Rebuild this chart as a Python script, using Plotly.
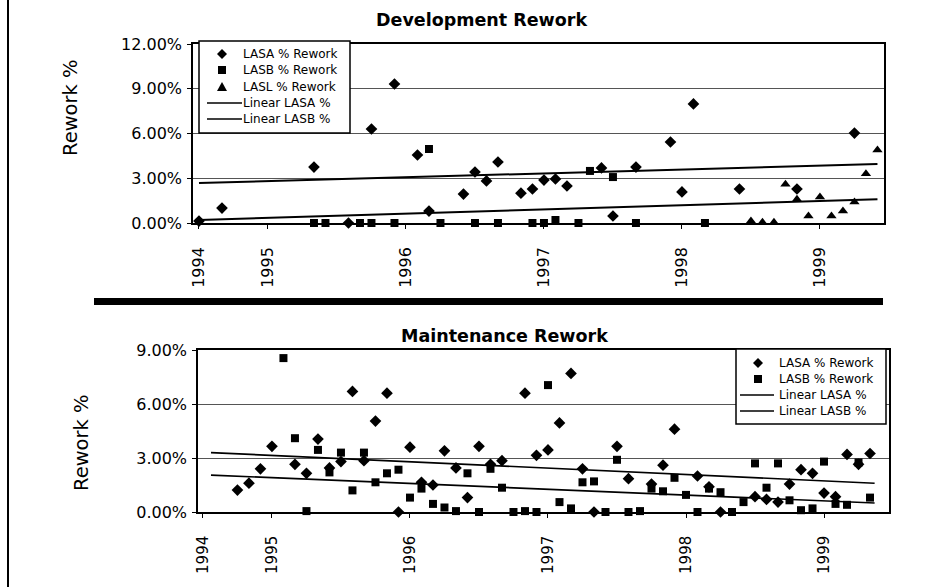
import plotly.graph_objects as go

# ---------------- data (x = month index, 0 = January 1995) ----------------
year_labels = ["1994", "1995", "1996", "1997", "1998", "1999"]

# Development rework (%)
dev_lasa_month = [-6, -4, 4, 7, 9, 11, 13, 14, 17, 18, 19, 20, 22, 23, 24, 25, 26,
                  29, 30, 32, 35, 36, 37, 41, 46, 51]
dev_lasa_pct = [0.13, 1.0, 3.75, 0.0, 6.3, 9.32, 4.56, 0.8, 1.94, 3.42, 2.82, 4.09,
                2.0, 2.28, 2.88, 2.95, 2.48, 3.69, 0.47, 3.75, 5.43, 2.08, 7.98,
                2.28, 2.28, 6.03]

dev_lasb_month = [4, 5, 8, 9, 11, 14, 15, 18, 20, 23, 24, 25, 27, 28, 30, 32, 38]
dev_lasb_pct = [0, 0, 0, 0, 0, 4.96, 0, 0, 0, 0, 0, 0.2, 0, 3.49, 3.08, 0, 0]

dev_lasl_month = [42, 43, 44, 45, 46, 47, 48, 49, 50, 51, 52, 53]
dev_lasl_pct = [0.13, 0.05, 0.05, 2.6, 1.6, 0.47, 1.75, 0.47, 0.8, 1.4, 3.3, 4.9]

dev_trend_month = [-6, 53]
dev_lasa_trend = [2.68, 3.95]
dev_lasb_trend = [0.2, 1.59]

# Maintenance rework (%)
mnt_lasa_month = [-3, -2, -1, 0, 2, 3, 4, 5, 6, 7, 8, 9, 10, 11, 12, 13, 14, 15, 16,
                  17, 18, 19, 20, 22, 23, 24, 25, 26, 27, 28, 30, 31, 33, 34, 35,
                  37, 38, 39, 42, 43, 44, 45, 46, 47, 48, 49, 50, 51, 52]
mnt_lasa_pct = [1.22, 1.6, 2.4, 3.65, 2.65, 2.15, 4.05, 2.45, 2.8, 6.7, 2.85, 5.05,
                6.6, 0, 3.6, 1.65, 1.5, 3.4, 2.45, 0.8, 3.65, 2.65, 2.85, 6.6, 3.15,
                3.45, 4.95, 7.7, 2.4, 0, 3.65, 1.85, 1.55, 2.6, 4.6, 2.0, 1.4, 0,
                0.85, 0.7, 0.55, 1.55, 2.35, 2.15, 1.05, 0.85, 3.2, 2.65, 3.25]

mnt_lasb_month = [1, 2, 3, 4, 5, 6, 7, 8, 9, 10, 11, 12, 13, 14, 15, 16, 17, 18, 19,
                  20, 21, 22, 23, 24, 25, 26, 27, 28, 29, 30, 31, 32, 33, 34, 35, 36,
                  37, 38, 39, 40, 41, 42, 43, 44, 45, 46, 47, 48, 49, 50, 51, 52]
mnt_lasb_pct = [8.55, 4.1, 0.05, 3.45, 2.2, 3.3, 1.2, 3.3, 1.65, 2.15,
                2.35, 0.8, 1.3, 0.45, 0.25, 0.05, 2.15, 0, 2.4, 1.35,
                0, 0.05, 0, 7.05, 0.55, 0.2, 1.65, 1.7, 0, 2.9,
                0, 0.05, 1.3, 1.15, 1.9, 0.95, 0, 1.3, 1.1, 0,
                0.55, 2.7, 1.35, 2.7, 0.65, 0.1, 0.2, 2.8, 0.45, 0.4,
                2.75, 0.8]

mnt_trend_month = [-5.3, 52.4]
mnt_lasa_trend = [3.3, 1.6]
mnt_lasb_trend = [2.05, 0.5]

dev_legend_labels = ["LASA % Rework", "LASB % Rework", "LASL % Rework",
                     "Linear LASA %", "Linear LASB %"]
mnt_legend_labels = ["LASA % Rework", "LASB % Rework",
                     "Linear LASA %", "Linear LASB %"]

# ---------------- figure ----------------
W, H = 944, 587
FONT = "DejaVu Sans, Liberation Sans, Arial, sans-serif"

def px(x, y):
    return x / W, 1 - y / H

fig = go.Figure()

def scatter(x, y, name, symbol, size, xa, ya):
    fig.add_trace(go.Scatter(
        x=x, y=y, name=name, mode="markers", xaxis=xa, yaxis=ya,
        cliponaxis=False, showlegend=False,
        marker=dict(symbol=symbol, size=size, color="black", line=dict(width=0))))

def trend(x, y, name, xa, ya, w=2):
    fig.add_trace(go.Scatter(
        x=x, y=y, name=name, mode="lines", xaxis=xa, yaxis=ya, showlegend=False,
        line=dict(color="black", width=w)))

scatter(dev_lasa_month, dev_lasa_pct, dev_legend_labels[0], "diamond", 9, "x", "y")
scatter(dev_lasb_month, dev_lasb_pct, dev_legend_labels[1], "square", 8, "x", "y")
scatter(dev_lasl_month, dev_lasl_pct, dev_legend_labels[2], "triangle-up", 9, "x", "y")
trend(dev_trend_month, dev_lasa_trend, dev_legend_labels[3], "x", "y")
trend(dev_trend_month, dev_lasb_trend, dev_legend_labels[4], "x", "y")

scatter(mnt_lasa_month, mnt_lasa_pct, mnt_legend_labels[0], "diamond", 9, "x2", "y2")
scatter(mnt_lasb_month, mnt_lasb_pct, mnt_legend_labels[1], "square", 8, "x2", "y2")
trend(mnt_trend_month, mnt_lasa_trend, mnt_legend_labels[2], "x2", "y2", 1.6)
trend(mnt_trend_month, mnt_lasb_trend, mnt_legend_labels[3], "x2", "y2", 1.6)

tick_months = [-6, 0, 12, 24, 36, 48]

def xaxis(domain, rng, anchor, fsize=16):
    return dict(domain=domain, range=rng, anchor=anchor, automargin=False,
                tickmode="array", tickvals=tick_months, ticktext=year_labels,
                tickangle=-90, ticks="outside", ticklen=4, tickcolor="black",
                tickfont=dict(size=fsize, color="black", family=FONT),
                ticklabelstandoff=12,
                showline=True, linecolor="black", linewidth=1.5, mirror=True,
                showgrid=False, zeroline=False)

def yaxis(domain, rng, anchor):
    return dict(domain=domain, range=rng, anchor=anchor, dtick=3, automargin=False,
                tickformat=".2f", ticksuffix="%",
                ticks="outside", ticklen=4, tickcolor="black",
                tickfont=dict(size=16, color="black", family=FONT),
                ticklabelstandoff=2,
                showline=True, linecolor="black", linewidth=1.5, mirror=True,
                showgrid=True, gridcolor="#555555", gridwidth=1, zeroline=False)

fig.update_layout(
    width=W, height=H,
    margin=dict(l=0, r=0, t=0, b=0, autoexpand=False),
    paper_bgcolor="white", plot_bgcolor="white",
    font=dict(family=FONT, color="black"),
    showlegend=False,
    xaxis=xaxis([193 / W, 884 / W], [-6.52, 53.57], "y"),
    yaxis=yaxis([1 - 223 / H, 1 - 44 / H], [0, 12], "x"),
    xaxis2=xaxis([198 / W, 889 / W], [-6.43, 53.65], "y2", fsize=15),
    yaxis2=yaxis([1 - 512 / H, 1 - 350 / H], [0, 9], "x2"),
)

ann = dict(xref="paper", yref="paper", showarrow=False,
           xanchor="center", yanchor="middle")
fig.add_annotation(text="<b>Development Rework</b>", x=481 / W, y=1 - 20 / H,
                   font=dict(size=17.5, family=FONT, color="black"), **ann)
fig.add_annotation(text="<b>Maintenance Rework</b>", x=505 / W, y=1 - 336 / H,
                   font=dict(size=17.5, family=FONT, color="black"), **ann)
fig.add_annotation(text="Rework %", x=70 / W, y=1 - 108 / H, textangle=-90,
                   font=dict(size=19.5, family=FONT, color="black"), **ann)
fig.add_annotation(text="Rework %", x=81 / W, y=1 - 443 / H, textangle=-90,
                   font=dict(size=19.5, family=FONT, color="black"), **ann)

# thick separator bar and left border line
fig.add_shape(type="rect", xref="paper", yref="paper",
              x0=94 / W, x1=883 / W, y0=1 - 305 / H, y1=1 - 298 / H,
              fillcolor="black", line=dict(width=0))
fig.add_shape(type="line", xref="paper", yref="paper",
              x0=8 / W, x1=8 / W, y0=0, y1=1, line=dict(color="black", width=2))

# ---------------- legends (boxed keys) ----------------
def marker_path(kind, cx, cy):
    if kind == "diamond":
        r = 5
        pts = [(cx, cy - r), (cx + r, cy), (cx, cy + r), (cx - r, cy)]
    elif kind == "square":
        r = 4
        pts = [(cx - r, cy - r), (cx + r, cy - r), (cx + r, cy + r), (cx - r, cy + r)]
    else:
        r = 5
        pts = [(cx, cy - r), (cx + r, cy + r - 1), (cx - r, cy + r - 1)]
    p = [px(a, b) for a, b in pts]
    return "M " + " L ".join(f"{a},{b}" for a, b in p) + " Z"

def draw_legend(box, labels, kinds, mx, tx, lx0, lx1, row_y):
    x0, y0, x1, y1 = box
    (a0, b0), (a1, b1) = px(x0, y0), px(x1, y1)
    fig.add_shape(type="rect", xref="paper", yref="paper", layer="above",
                  x0=a0, x1=a1, y0=b1, y1=b0, fillcolor="white",
                  line=dict(color="black", width=1.5))
    for lab, kind, ry in zip(labels, kinds, row_y):
        if kind == "line":
            (p0, q0), (p1, q1) = px(lx0, ry), px(lx1, ry)
            fig.add_shape(type="line", xref="paper", yref="paper", layer="above",
                          x0=p0, x1=p1, y0=q0, y1=q1,
                          line=dict(color="black", width=1.3))
        else:
            fig.add_shape(type="path", xref="paper", yref="paper", layer="above",
                          path=marker_path(kind, mx, ry), fillcolor="black",
                          line=dict(width=0))
        tx_p, ty_p = px(tx, ry)
        fig.add_annotation(text=lab, xref="paper", yref="paper", x=tx_p, y=ty_p,
                           xanchor="left", yanchor="middle", showarrow=False,
                           font=dict(size=12, family=FONT, color="black"))

draw_legend((199, 41, 350, 133), dev_legend_labels,
            ["diamond", "square", "triangle", "line", "line"],
            222, 241, 207, 242, [54, 70, 87, 103, 119])
draw_legend((736, 349, 886, 424), mnt_legend_labels,
            ["diamond", "square", "line", "line"],
            758, 777, 740, 774, [363, 379, 395, 411])

# the page's default body margin would shift the chart; remove it
fig.write_html("out.html",
               config={"displayModeBar": False},
               post_script="document.body.style.margin='0';"
                           "document.body.style.overflow='hidden';")
